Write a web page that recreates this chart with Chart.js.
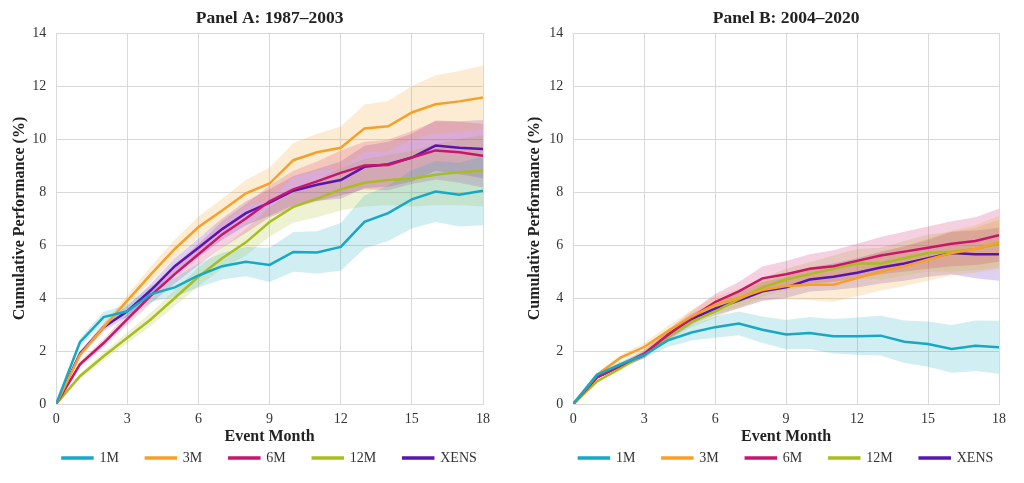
<!DOCTYPE html>
<html>
<head>
<meta charset="utf-8">
<script src="https://cdn.jsdelivr.net/npm/chart.js@4/dist/chart.umd.min.js"></script>
<style>
  body { margin: 0; background: #fff; }
  #wrap { display: flex; width: 1024px; height: 483px; }
  canvas { display: block; }
</style>
</head>
<body>
<div id="wrap">
  <canvas id="chartA" width="512" height="483"></canvas>
  <canvas id="chartB" width="512" height="483"></canvas>
</div>
<script>
let months = [0,1,2,3,4,5,6,7,8,9,10,11,12,13,14,15,16,17,18]
let seriesNames = ['1M', '3M', '6M', '12M', 'XENS']
let colors = ['rgb(23,168,196)', 'rgb(247,160,40)', 'rgb(200,22,106)', 'rgb(168,190,28)', 'rgb(90,20,178)']
let xTicks = [0, 3, 6, 9, 12, 15, 18]

// Panel A: 1987-2003 (means, then band half-widths)
let a1M   = [0,2.33,3.28,3.5,4.15,4.4,4.85,5.2,5.37,5.25,5.74,5.72,5.93,6.87,7.2,7.72,8.02,7.9,8.05]
let a3M   = [0,1.85,2.9,3.9,4.9,5.85,6.68,7.3,7.95,8.32,9.2,9.5,9.67,10.4,10.48,11.0,11.31,11.42,11.57]
let a6M   = [0,1.5,2.3,3.2,4.1,4.9,5.65,6.4,7.0,7.65,8.1,8.4,8.72,9.0,9.02,9.3,9.57,9.5,9.37]
let a12M  = [0,1.05,1.8,2.5,3.2,4.0,4.8,5.5,6.1,6.87,7.44,7.75,8.1,8.35,8.45,8.5,8.65,8.75,8.8]
let aXENS = [0,1.9,2.9,3.5,4.3,5.2,5.9,6.6,7.2,7.6,8.05,8.27,8.45,8.95,9.05,9.3,9.75,9.67,9.62]
let a1Mse   = [0,0.15,0.2,0.25,0.3,0.35,0.45,0.5,0.55,0.65,0.75,0.8,0.9,1.0,1.05,1.1,1.15,1.2,1.3]
let a3Mse   = [0,0.1,0.15,0.2,0.3,0.35,0.4,0.45,0.5,0.6,0.65,0.7,0.8,0.9,0.95,1.0,1.1,1.15,1.2]
let a6Mse   = [0,0.1,0.15,0.2,0.3,0.35,0.4,0.5,0.55,0.6,0.7,0.75,0.85,0.9,0.95,1.0,1.1,1.15,1.2]
let a12Mse  = [0,0.1,0.15,0.2,0.25,0.3,0.35,0.4,0.5,0.55,0.6,0.7,0.8,0.9,0.95,1.05,1.15,1.25,1.35]
let aXENSse = [0,0.1,0.15,0.2,0.25,0.3,0.35,0.4,0.45,0.5,0.55,0.6,0.7,0.8,0.85,0.9,0.95,1.0,1.1]

// Panel B: 2004-2020
let b1M   = [0,1.1,1.5,1.85,2.4,2.7,2.9,3.04,2.8,2.62,2.68,2.56,2.56,2.58,2.35,2.26,2.08,2.2,2.14]
let b3M   = [0,1.1,1.75,2.15,2.75,3.3,3.75,4.0,4.3,4.45,4.5,4.5,4.75,5.0,5.2,5.45,5.7,5.85,6.1]
let b6M   = [0,1.0,1.45,1.9,2.6,3.25,3.85,4.25,4.74,4.9,5.1,5.2,5.4,5.6,5.75,5.9,6.05,6.15,6.37]
let b12M  = [0,0.85,1.35,1.9,2.55,3.1,3.5,3.95,4.4,4.7,4.9,5.1,5.3,5.3,5.5,5.7,5.75,5.85,6.05]
let bXENS = [0,1.0,1.45,1.85,2.6,3.2,3.6,3.9,4.25,4.4,4.7,4.8,4.95,5.15,5.3,5.5,5.7,5.65,5.65]
let b1Mse   = [0,0.05,0.1,0.12,0.25,0.3,0.4,0.45,0.5,0.55,0.6,0.65,0.7,0.75,0.8,0.85,0.9,0.95,1.0]
let b3Mse   = [0,0.05,0.1,0.15,0.2,0.25,0.3,0.35,0.4,0.5,0.58,0.65,0.68,0.72,0.75,0.8,0.85,0.9,1.0]
let b6Mse   = [0,0.05,0.1,0.15,0.2,0.25,0.3,0.35,0.45,0.5,0.55,0.6,0.65,0.7,0.75,0.8,0.85,0.9,1.0]
let b12Mse  = [0,0.05,0.1,0.12,0.15,0.2,0.25,0.3,0.35,0.4,0.45,0.5,0.55,0.6,0.65,0.7,0.75,0.8,0.9]
let bXENSse = [0,0.05,0.1,0.12,0.15,0.2,0.25,0.3,0.35,0.4,0.45,0.5,0.55,0.6,0.65,0.7,0.8,0.9,1.0]

let serif = "'Liberation Serif', 'DejaVu Serif', serif"

function pts(vals, se, sign) {
    return months.map((m, i) => ({ x: m, y: vals[i] + sign * se[i] }))
}

function alpha(c, a) {
    return c.replace('rgb(', 'rgba(').replace(')', ',' + a + ')')
}

// keep the legend row centred under the plot area, not the whole canvas
let centreLegend = {
    id: 'centreLegend',
    afterLayout(chart) {
        let l = chart.legend
        let d = (chart.chartArea.left + chart.chartArea.right) / 2 - (l.left + l.right) / 2
        l.left += d
        l.right += d
    }
}

function makeChart(id, title, means, ses, padLeft, padRight, yTitlePad) {
    let datasets = []
    means.forEach((vals, k) => {
        datasets.push({
            label: seriesNames[k],
            data: pts(vals, ses[k], 0),
            borderColor: colors[k],
            backgroundColor: colors[k],
            borderWidth: 2.5,
            pointRadius: 0,
            fill: false,
            tension: 0,
            order: 0
        })
    })
    means.forEach((vals, k) => {
        let lowIndex = datasets.length
        datasets.push({
            label: 'band',
            data: pts(vals, ses[k], -1),
            borderWidth: 0,
            pointRadius: 0,
            fill: false,
            order: 10
        })
        datasets.push({
            label: 'band',
            data: pts(vals, ses[k], 1),
            borderWidth: 0,
            pointRadius: 0,
            backgroundColor: alpha(colors[k], 0.2),
            fill: lowIndex,
            order: 10
        })
    })

    return new Chart(document.querySelector(id), {
        type: 'line',
        data: { datasets: datasets },
        plugins: [centreLegend],
        options: {
            responsive: false,
            animation: false,
            layout: { padding: { left: padLeft, right: padRight, top: 2, bottom: 8 } },
            scales: {
                x: {
                    type: 'linear',
                    min: 0, max: 18,
                    afterBuildTicks: axis => { axis.ticks = xTicks.map(v => ({ value: v })) },
                    grid: { color: '#d9d9d9', drawTicks: false },
                    border: { color: '#d9d9d9' },
                    ticks: { color: '#333', padding: 7, font: { family: serif, size: 14 } },
                    title: { display: true, text: 'Event Month', color: '#222', padding: { top: -7.4, bottom: -22.6 },
                             font: { family: serif, size: 16, weight: 'bold' } }
                },
                y: {
                    min: 0, max: 14,
                    ticks: { stepSize: 2, color: '#333', padding: 10, font: { family: serif, size: 14 } },
                    grid: { color: '#d9d9d9', drawTicks: false },
                    border: { color: '#d9d9d9' },
                    title: { display: true, text: 'Cumulative Performance (%)', color: '#222', padding: yTitlePad,
                             font: { family: serif, size: 16, weight: 'bold' } }
                }
            },
            plugins: {
                title: { display: true, fullSize: false, text: title, color: '#222', padding: { top: 6, bottom: 4 },
                         font: { family: serif, size: 17.5, weight: 'bold' } },
                legend: {
                    position: 'bottom',
                    labels: {
                        filter: item => item.text !== 'band',
                        boxWidth: 30, boxHeight: 1, padding: 27,
                        color: '#333', font: { family: serif, size: 14 }
                    }
                },
                tooltip: { enabled: false }
            }
        }
    })
}

let chartA = makeChart('#chartA', 'Panel A: 1987\u20132003',
    [a1M, a3M, a6M, a12M, aXENS], [a1Mse, a3Mse, a6Mse, a12Mse, aXENSse], 6, 29, { top: 4, bottom: -7 })
let chartB = makeChart('#chartB', 'Panel B: 2004\u20132020',
    [b1M, b3M, b6M, b12M, bXENS], [b1Mse, b3Mse, b6Mse, b12Mse, bXENSse], 10, 25, { top: 3, bottom: -5 })
</script>
</body>
</html>
